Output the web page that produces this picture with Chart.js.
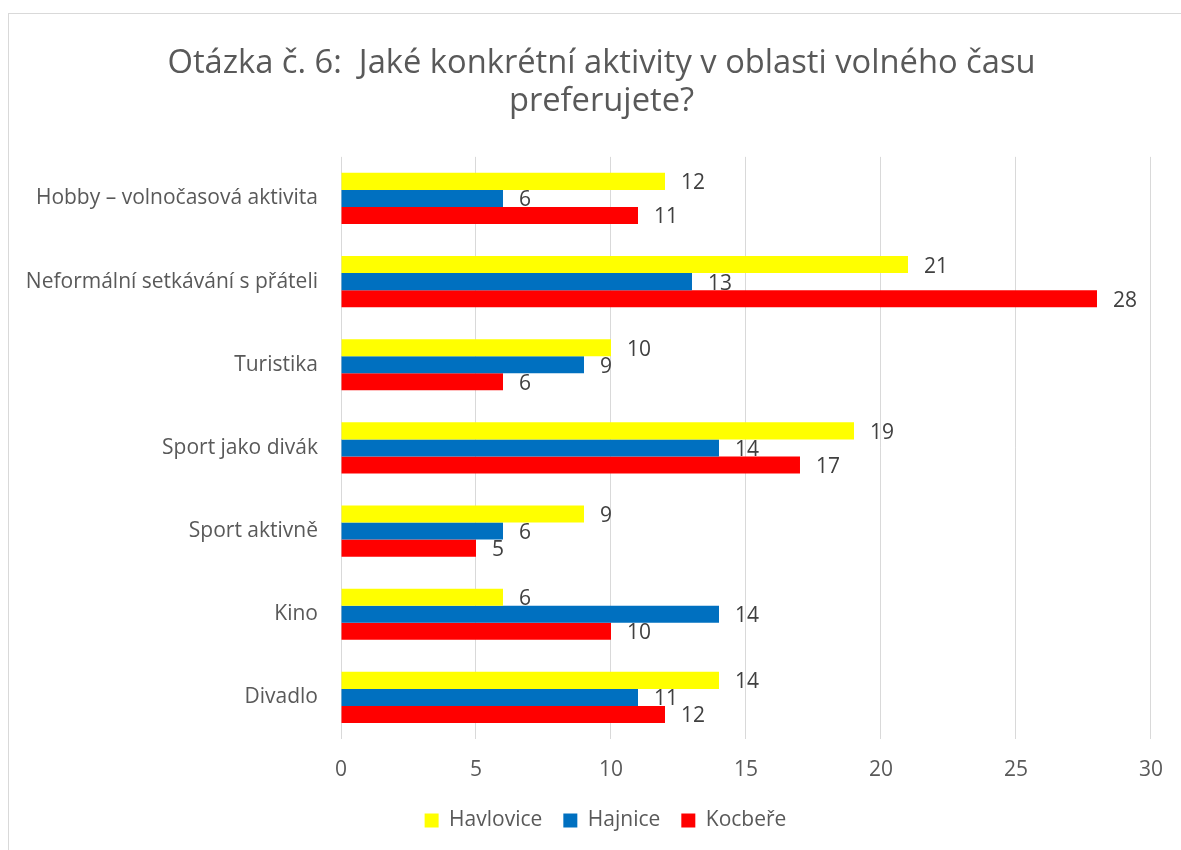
<!DOCTYPE html>
<html>
<head>
<meta charset="utf-8">
<script src="https://cdn.jsdelivr.net/npm/chart.js@4.4.1/dist/chart.umd.min.js"></script>
<style>
  html, body { margin: 0; padding: 0; background: #fff; }
  #wrap { position: relative; width: 1181px; height: 850px; }
  #frame { position: absolute; left: 8px; top: 13px; width: 1200px; height: 900px; border: 1px solid #d9d9d9; box-sizing: border-box; pointer-events: none; }
  canvas { position: absolute; left: 0; top: 0; }
</style>
</head>
<body>
<div id="wrap">
  <canvas id="c" width="1181" height="850"></canvas>
  <div id="frame"></div>
</div>
<script>
const categories = [
  "Hobby – volnočasová aktivita",
  "Neformální setkávání s přáteli",
  "Turistika",
  "Sport jako divák",
  "Sport aktivně",
  "Kino",
  "Divadlo"
];
const seriesNames = ["Havlovice", "Hajnice", "Kocbeře"];
const havlovice = [12, 21, 10, 19, 9, 6, 14];
const hajnice   = [6, 13, 9, 14, 6, 14, 11];
const kocbere   = [11, 28, 6, 17, 5, 10, 12];
const seriesColors = ["#FFFF00", "#0070C0", "#FF0000"];
const xTicks = [0, 5, 10, 15, 20, 25, 30];
const titleLines = ["Otázka č. 6:  Jaké konkrétní aktivity v oblasti volného času", "preferujete?"];

const FONT = "'Open Sans', 'Noto Sans', sans-serif";

const valueLabels = {
  id: 'valueLabels',
  afterDatasetsDraw(chart) {
    const ctx = chart.ctx;
    ctx.save();
    ctx.font = "21px " + FONT;
    ctx.fillStyle = "#404040";
    ctx.textAlign = "left";
    ctx.textBaseline = "middle";
    chart.data.datasets.forEach((ds, di) => {
      const meta = chart.getDatasetMeta(di);
      meta.data.forEach((bar, i) => {
        ctx.fillText(String(ds.data[i]), bar.x + 16, bar.y + 2);
      });
    });
    ctx.restore();
  }
};

// centre title and legend over the same span as the original
const shiftBlocks = {
  id: 'shiftBlocks',
  afterLayout(chart) {
    if (chart.titleBlock) { chart.titleBlock.left = 52; }
    if (chart.legend) { chart.legend.left = 60; }
  }
};

const seriesData = [havlovice, hajnice, kocbere];

new Chart(document.getElementById('c'), {
  type: 'bar',
  data: {
    labels: categories,
    datasets: seriesNames.map((n, k) => ({
      label: n,
      data: seriesData[k],
      backgroundColor: seriesColors[k],
      borderWidth: 0,
      barPercentage: 1.0,
      categoryPercentage: 0.615
    }))
  },
  options: {
    indexAxis: 'y',
    responsive: false,
    animation: false,
    devicePixelRatio: 1,
    layout: { padding: { left: 0, right: 30, top: 0, bottom: 9 } },
    plugins: {
      title: {
        display: true,
        text: titleLines,
        color: "#595959",
        font: { family: FONT, size: 32.7, weight: 'normal', lineHeight: 1.16 },
        padding: { top: 45, bottom: 36 }
      },
      legend: {
        position: 'bottom',
        labels: {
          color: "#595959",
          font: { family: FONT, size: 21 },
          boxWidth: 14,
          boxHeight: 14,
          padding: 21
        }
      },
      tooltip: { enabled: false }
    },
    scales: {
      x: {
        min: 0, max: 30,
        afterBuildTicks(scale) { scale.ticks = xTicks.map(v => ({ value: v })); },
        afterFit(scale) { scale.height = 50; },
        grid: { color: "#d9d9d9", lineWidth: 1, drawTicks: false },
        border: { display: false },
        ticks: { color: "#595959", font: { family: FONT, size: 21 }, padding: 18 }
      },
      y: {
        afterFit(scale) { scale.width = 341; },
        grid: { display: false, drawTicks: false },
        border: { display: false },
        ticks: { color: "#595959", font: { family: FONT, size: 21 }, padding: 23 }
      }
    }
  },
  plugins: [valueLabels, shiftBlocks]
});
</script>
</body>
</html>
